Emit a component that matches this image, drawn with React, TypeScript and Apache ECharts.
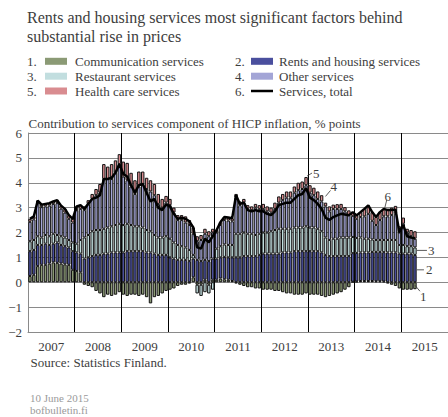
import React, { useEffect, useRef } from 'react';
import * as echarts from 'echarts';

const years = ['2007', '2008', '2009', '2010', '2011', '2012', '2013', '2014', '2015'];
const monthNums = ['01', '02', '03', '04', '05', '06', '07', '08', '09', '10', '11', '12'];
const months = years.flatMap((y) => monthNums.map((m) => `${y}-${m}`));

const yTicks = [-2, -1, 0, 1, 2, 3, 4, 5, 6];

// 1. Communication services
const communication = [
  0.25, 0.3, 0.65, 0.7, 0.7, 0.75, 0.8, 0.78, 0.75, 0.72, 0.7, 0.5,
  0.45, 0.4, -0.1, -0.15, -0.2, -0.35, -0.45, -0.6, -0.5, -0.55, -0.5, -0.4,
  -0.5, -0.55, -0.5, -0.5, -0.55, -0.5, -0.6, -0.85, -0.6, -0.55, -0.45, -0.35,
  -0.3, -0.25, -0.15, -0.1, -0.1, -0.05, 0.2, -0.1, -0.1, 0.1, -0.1, 0.1,
  0.1, 0.15, 0.12, 0.1, 0.05, -0.05, -0.1, -0.15, -0.2, -0.2, -0.25, -0.25,
  -0.3, -0.3, -0.3, -0.35, -0.35, -0.4, -0.45, -0.45, -0.5, -0.5, -0.5, -0.45,
  -0.5, -0.5, -0.5, -0.55, -0.6, -0.55, -0.5, -0.45, -0.4, -0.3, -0.2, 0.02,
  0.03, 0.05, 0.05, 0.05, 0.05, 0.04, 0.04, 0.03, -0.05, -0.1, -0.15, -0.25,
  -0.3, -0.3, -0.3, -0.28,
];

// 2. Rents and housing services
const rents = [
  1.0, 1.0, 0.85, 0.8, 0.85, 0.75, 0.75, 0.82, 0.75, 0.73, 0.7, 0.75,
  0.75, 0.75, 0.95, 1.0, 1.05, 1.1, 1.1, 1.15, 1.15, 1.2, 1.2, 1.2,
  1.2, 1.25, 1.25, 1.25, 1.25, 1.25, 1.2, 1.2, 1.15, 1.1, 1.1, 1.1,
  1.0, 0.95, 0.9, 0.9, 0.9, 0.85, 0.75, 0.9, 0.85, 0.8, 0.85, 0.85,
  0.85, 0.85, 0.9, 0.9, 0.95, 1.0, 1.0, 1.05, 1.05, 1.05, 1.05, 1.1,
  1.15, 1.15, 1.15, 1.15, 1.15, 1.2, 1.2, 1.2, 1.25, 1.25, 1.25, 1.25,
  1.25, 1.25, 1.25, 1.2, 1.1, 1.05, 1.05, 1.05, 1.05, 1.05, 1.05, 1.15,
  1.15, 1.15, 1.15, 1.15, 1.17, 1.18, 1.18, 1.18, 1.2, 1.2, 1.2, 1.15,
  1.15, 1.15, 1.15, 1.1,
];

// 3. Restaurant services
const restaurant = [
  0.4, 0.4, 0.35, 0.3, 0.35, 0.35, 0.4, 0.3, 0.35, 0.35, 0.3, 0.35,
  0.35, 0.55, 0.85, 0.9, 1.0, 1.0, 1.0, 1.0, 1.05, 1.05, 1.1, 1.15,
  1.1, 1.1, 1.05, 1.0, 1.0, 0.95, 0.9, 0.85, 0.75, 0.7, 0.7, 0.75,
  0.75, 0.65, 0.6, 0.55, 0.5, 0.45, 0.15, -0.35, -0.45, -0.4, -0.35, -0.3,
  0.4, 0.45, 0.5, 0.5, 0.5, 0.95, 0.95, 0.95, 0.9, 0.9, 0.85, 0.85,
  0.85, 0.85, 0.9, 0.95, 1.0, 0.95, 0.95, 0.95, 0.95, 0.95, 0.95, 1.0,
  0.95, 0.95, 0.9, 0.85, 0.7, 0.65, 0.7, 0.7, 0.75, 0.75, 0.75, 0.65,
  0.6, 0.6, 0.55, 0.55, 0.5, 0.48, 0.48, 0.49, 0.5, 0.5, 0.5, 0.35,
  0.35, 0.3, 0.3, 0.3,
];

// 4. Other services
const other = [
  0.78, 0.83, 1.33, 1.22, 1.15, 1.23, 1.2, 1.28, 1.11, 1.0, 0.85, 0.8,
  1.35, 1.25, 1.1, 1.25, 1.3, 1.4, 1.5, 2.0, 1.95, 1.9, 2.1, 2.4,
  1.95, 1.75, 1.55, 1.3, 1.6, 1.75, 1.65, 1.6, 1.6, 1.35, 1.2, 1.35,
  1.35, 1.2, 1.0, 1.05, 1.0, 1.0, 0.85, 0.75, 0.85, 1.05, 1.0, 1.05,
  0.65, 0.85, 0.98, 0.98, 0.95, 1.45, 1.15, 1.2, 1.0, 0.95, 1.1, 1.0,
  0.95, 0.85, 0.75, 0.85, 1.05, 1.15, 1.25, 1.25, 1.4, 1.5, 1.55, 1.65,
  1.4, 1.3, 1.2, 1.2, 1.25, 1.15, 1.2, 1.2, 1.15, 1.05, 0.9, 0.85,
  0.77, 0.82, 0.9, 1.0, 0.75, 0.6, 0.8, 0.95, 0.95, 1.0, 1.05, 0.5,
  0.85, 0.55, 0.4, 0.35,
];

// 5. Health care services
const healthCare = [
  0.12, 0.12, 0.1, 0.1, 0.1, 0.1, 0.1, 0.12, 0.12, 0.15, 0.15, 0.15,
  0.15, 0.15, 0.15, 0.15, 0.2, 0.25, 0.35, 0.6, 0.5, 0.6, 0.5, 0.4,
  0.6, 0.7, 0.55, 0.55, 0.6, 0.5, 0.45, 0.45, 0.45, 0.4, 0.35, 0.27,
  0.25, 0.2, 0.2, 0.2, 0.25, 0.2, 0.25, 0.2, 0.2, 0.2, 0.2, 0.15,
  0.1, 0.12, 0.12, 0.12, 0.12, 0.15, 0.15, 0.15, 0.15, 0.15, 0.15, 0.15,
  0.2, 0.2, 0.2, 0.25, 0.25, 0.25, 0.25, 0.25, 0.25, 0.3, 0.3, 0.33,
  0.3, 0.3, 0.3, 0.25, 0.15, 0.2, 0.17, 0.19, 0.2, 0.17, 0.19, 0.15,
  0.14, 0.2, 0.3, 0.34, 0.35, 0.32, 0.32, 0.3, 0.3, 0.3, 0.32, 0.25,
  0.25, 0.15, 0.25, 0.3,
];

// 6. Services, total
const servicesTotal = [
  2.55, 2.65, 3.28, 3.12, 3.15, 3.18, 3.25, 3.3, 3.08, 2.95, 2.7, 2.55,
  3.05, 3.1, 2.95, 3.15, 3.35, 3.4, 3.5, 4.15, 4.15, 4.2, 4.4, 4.75,
  4.35, 4.25, 3.9, 3.6, 3.9, 3.95, 3.6, 3.25, 3.35, 3.0, 2.9, 3.12,
  3.05, 2.75, 2.55, 2.6, 2.55, 2.45, 2.2, 1.4, 1.35, 1.75, 1.6, 1.85,
  2.1, 2.42, 2.62, 2.6, 2.57, 3.5, 3.15, 3.2, 2.9, 2.85, 2.9, 2.85,
  2.85, 2.75, 2.7, 2.85, 3.1, 3.15, 3.2, 3.2, 3.35, 3.5, 3.55, 3.78,
  3.4, 3.3, 3.15, 2.95, 2.6, 2.5, 2.62, 2.69, 2.75, 2.72, 2.69, 2.82,
  2.69, 2.82, 2.95, 3.09, 2.82, 2.62, 2.82, 2.95, 2.9, 2.9, 2.92, 2.0,
  2.3, 1.85, 1.8, 1.77,
];

const legendItems = [
  { num: '1.', name: 'Communication services', color: '#8B9A75', kind: 'rect' },
  { num: '2.', name: 'Rents and housing services', color: '#4A4F9E', kind: 'rect' },
  { num: '3.', name: 'Restaurant services', color: '#C2DEDF', kind: 'rect' },
  { num: '4.', name: 'Other services', color: '#A3A5D6', kind: 'rect' },
  { num: '5.', name: 'Health care services', color: '#D98C90', kind: 'rect' },
  { num: '6.', name: 'Services, total', color: '#000000', kind: 'line' },
];

// annotation anchors: label, month index, value
const annotations = [
  { text: '5', month: 71, value: 4.23 },
  { text: '4', month: 76, value: 3.45 },
  { text: '6', month: 91, value: 2.96 },
  { text: '3', month: 99, value: 1.28 },
  { text: '2', month: 99, value: 0.5 },
  { text: '1', month: 99, value: -0.12 },
];

const FONT = 'Liberation Serif, Times New Roman, serif';
const TXT = '#3d3d3d';

const barSeries = [
  { name: 'Communication services', data: communication, color: legendItems[0].color },
  { name: 'Rents and housing services', data: rents, color: legendItems[1].color },
  { name: 'Restaurant services', data: restaurant, color: legendItems[2].color },
  { name: 'Other services', data: other, color: legendItems[3].color },
  { name: 'Health care services', data: healthCare, color: legendItems[4].color },
];

export default function App() {
  const ref = useRef<HTMLDivElement>(null);

  useEffect(() => {
    if (!ref.current) return;
    const chart = echarts.init(ref.current, null, { renderer: 'svg' });

    const option: any = {
      animation: false,
      backgroundColor: '#ffffff',
      textStyle: { fontFamily: FONT },
      grid: { left: 28, top: 133, bottom: 85, right: -6, containLabel: false },
      xAxis: [
        {
          type: 'category',
          data: months,
          position: 'bottom',
          boundaryGap: true,
          axisLine: { show: false },
          axisTick: { show: false },
          axisLabel: { show: false },
          splitLine: { show: false },
        },
        {
          type: 'category',
          data: years,
          position: 'bottom',
          boundaryGap: true,
          axisLine: { show: true, lineStyle: { color: '#8a8a8a', width: 1 } },
          axisTick: { show: false },
          axisLabel: { show: true, interval: 0, color: TXT, fontSize: 13, fontFamily: FONT, margin: 8 },
          splitLine: { show: true, interval: 0, lineStyle: { color: '#000000', width: 1 } },
        },
      ],
      yAxis: {
        type: 'value',
        min: yTicks[0],
        max: yTicks[yTicks.length - 1],
        interval: 1,
        axisLine: { show: true, lineStyle: { color: '#8a8a8a', width: 1 } },
        axisTick: { show: false },
        axisLabel: {
          color: TXT,
          fontSize: 13,
          fontFamily: FONT,
          margin: 6,
          formatter: (v: number) => (v < 0 ? '\u2212' + Math.abs(v) : String(v)),
        },
        splitLine: { show: true, lineStyle: { color: '#8a8a8a', width: 1 } },
      },
      series: [
        ...barSeries.map((s) => ({
          name: s.name,
          type: 'bar',
          stack: 'services',
          xAxisIndex: 0,
          yAxisIndex: 0,
          barCategoryGap: '12%',
          data: s.data,
          itemStyle: { color: s.color, borderColor: '#111111', borderWidth: 1 },
          emphasis: { disabled: true },
        })),
        {
          name: 'Services, total',
          type: 'line',
          xAxisIndex: 0,
          yAxisIndex: 0,
          data: servicesTotal,
          symbol: 'none',
          showSymbol: false,
          z: 5,
          lineStyle: { color: '#000000', width: 2.5 },
          emphasis: { disabled: true },
        },
      ],
    };

    chart.setOption(option);

    const elements: any[] = [];
    elements.push({
      type: 'text', left: 27, top: 9,
      style: { text: 'Rents and housing services most significant factors behind', fill: TXT, font: `16px ${FONT}` },
    });
    elements.push({
      type: 'text', left: 27, top: 28,
      style: { text: 'substantial rise in prices', fill: TXT, font: `16px ${FONT}` },
    });
    const rowY = [61.3, 76.2, 91];
    legendItems.forEach((it, i) => {
      const col = i % 2;
      const row = Math.floor(i / 2);
      const y = rowY[row];
      const nx = col === 0 ? 27 : 235;
      const sx = col === 0 ? 45 : 251;
      const tx = col === 0 ? 75 : 279;
      elements.push({
        type: 'text', x: nx, y,
        style: { text: it.num, fill: TXT, font: `13px ${FONT}`, verticalAlign: 'middle', align: 'left' },
      });
      if (it.kind === 'rect') {
        elements.push({ type: 'rect', shape: { x: sx, y: y - 3.5, width: 22, height: 7 }, style: { fill: it.color } });
      } else {
        elements.push({ type: 'line', shape: { x1: sx, y1: y, x2: sx + 22, y2: y }, style: { stroke: it.color, lineWidth: 2.5 } });
      }
      elements.push({
        type: 'text', x: tx, y,
        style: { text: it.name, fill: TXT, font: `13px ${FONT}`, verticalAlign: 'middle', align: 'left' },
      });
    });
    elements.push({
      type: 'text', x: 28.5, y: 123.5,
      style: { text: 'Contribution to services component of HICP inflation, % points', fill: TXT, font: `13px ${FONT}`, verticalAlign: 'middle' },
    });
    elements.push({
      type: 'text', x: 30.5, y: 362,
      style: { text: 'Source: Statistics Finland.', fill: TXT, font: `13px ${FONT}`, verticalAlign: 'middle' },
    });
    elements.push({
      type: 'text', x: 30, y: 397.5,
      style: { text: '10 June 2015', fill: '#9a9a9a', font: `11px ${FONT}`, verticalAlign: 'middle' },
    });
    elements.push({
      type: 'text', x: 30, y: 410,
      style: { text: 'bofbulletin.fi', fill: '#9a9a9a', font: `11px ${FONT}`, verticalAlign: 'middle' },
    });

    // leader offsets: x1, y1, x2, y2, textX, textY, centered
    const leader: Record<string, number[]> = {
      '5': [1, -1, 6, -4, 7, -4, 0],
      '4': [0, 0, 5, -6, 5, -10, 0],
      '6': [1, -1, 3, -9, 4, -12, 1],
      '3': [2, 0, 12, 0, 13, 0, 0],
      '2': [2, 0, 9, 0, 11, 0, 0],
      '1': [0, 0, 5, 6, 5, 11, 0],
    };
    annotations.forEach((a) => {
      const p = chart.convertToPixel({ seriesIndex: 0 }, [a.month, a.value]) as number[];
      if (!p) return;
      const [x1, y1, x2, y2, tx, ty, center] = leader[a.text];
      elements.push({
        type: 'line', z: 10,
        shape: { x1: p[0] + x1, y1: p[1] + y1, x2: p[0] + x2, y2: p[1] + y2 },
        style: { stroke: '#333', lineWidth: 0.8 },
      });
      elements.push({
        type: 'text', z: 10, x: p[0] + tx, y: p[1] + ty,
        style: { text: a.text, fill: TXT, font: `13px ${FONT}`, verticalAlign: 'middle', align: center ? 'center' : 'left' },
      });
    });

    chart.setOption({ graphic: { elements } });

    return () => chart.dispose();
  }, []);

  return (
    <div
      ref={ref}
      style={{ position: 'absolute', left: 0, top: 0, width: 448, height: 417, background: '#fff' }}
    />
  );
}
